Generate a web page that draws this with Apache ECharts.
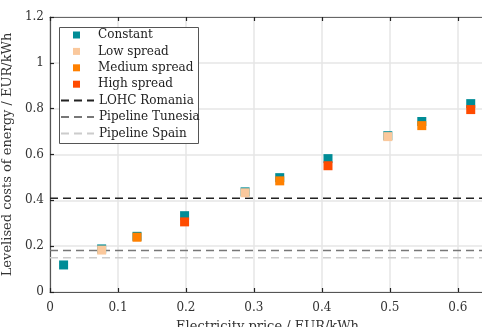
<!DOCTYPE html>
<html><head><meta charset="utf-8">
<script src="https://cdn.jsdelivr.net/npm/echarts@6/dist/echarts.min.js"></script>
<style>html,body{margin:0;padding:0;background:#fff}#c{width:482px;height:327px}</style>
</head><body><div id="c"></div>
<script>
const prices   = [0.020, 0.076, 0.128, 0.198, 0.287, 0.338, 0.409, 0.497, 0.547, 0.619];
const constant = [0.118, 0.188, 0.243, 0.333, 0.437, 0.499, 0.582, 0.682, 0.744, 0.822];
const lowSpread    = [null, 0.183, null, null, 0.433, null, null, 0.678, null, null];
const mediumSpread = [null, null, 0.239, null, null, 0.485, null, null, 0.726, null];
const highSpread   = [null, null, null, 0.306, null, null, 0.551, null, null, 0.796];
const refNames  = ['LOHC Romania', 'Pipeline Tunesia', 'Pipeline Spain'];
const refValues = [0.409, 0.181, 0.150];
const xMin = 0, xMax = 0.64;

const font = 'DejaVu Serif';
const pairs = ys => prices.map((x, i) => ys[i] == null ? null : [x, ys[i]]).filter(p => p);

const scat = (name, ys, color) => ({
  name, type: 'scatter', symbol: 'rect', symbolSize: 9,
  itemStyle: { color, opacity: 1 }, data: pairs(ys), z: 5
});
const refColors = ['#222222', '#777777', '#cccccc'];
const lines = refNames.map((n, i) => ({
  name: n, type: 'line', symbol: 'none', showSymbol: false, z: 3,
  lineStyle: { color: refColors[i], width: 1.5, type: [8, 5] },
  itemStyle: { color: refColors[i] },
  data: [[xMin, refValues[i]], [xMax, refValues[i]]]
}));

const chart = echarts.init(document.getElementById('c'), null, { renderer: 'canvas' });
chart.setOption({
  animation: false,
  textStyle: { fontFamily: font },
  grid: { left: 50, right: -3, top: 17, bottom: 35, outerBoundsMode: 'none', containLabel: false },
  xAxis: [{
    type: 'value', min: xMin, max: xMax, interval: 0.1,
    name: 'Electricity price / EUR/kWh', nameLocation: 'middle', nameGap: 28,
    nameTextStyle: { fontFamily: font, fontSize: 13, color: '#333' },
    axisLine: { lineStyle: { color: '#555', width: 1.2 } },
    axisTick: { inside: true, length: 4, lineStyle: { color: '#222', width: 1.2 } },
    axisLabel: { fontFamily: font, fontSize: 12, color: '#333', margin: 10,
      formatter: v => v === 0 ? '0' : (Math.round(v*10)/10).toString(),
      showMaxLabel: false },
    splitLine: { show: true, lineStyle: { color: '#e6e6e6', width: 1.5 } }
  }, {
    type: 'value', min: xMin, max: xMax, interval: 0.1, position: 'top',
    axisLine: { show: true, lineStyle: { color: '#666', width: 1.2 } },
    axisTick: { inside: true, length: 4, lineStyle: { color: '#222', width: 1.2 } },
    axisLabel: { show: false }, splitLine: { show: false }
  }],
  yAxis: [{
    type: 'value', min: 0, max: 1.2, interval: 0.2,
    name: 'Levelised costs of energy / EUR/kWh', nameLocation: 'middle', nameGap: 31,
    nameTextStyle: { fontFamily: font, fontSize: 13, color: '#333' },
    axisLine: { show: true, lineStyle: { color: '#555', width: 1.2 } },
    axisTick: { show: true, inside: true, length: 4, lineStyle: { color: '#222', width: 1.2 } },
    axisLabel: { fontFamily: font, fontSize: 12, color: '#333', margin: 6,
      formatter: v => v === 0 ? '0' : (v === 1 ? '1' : (Math.round(v*10)/10).toString()) },
    splitLine: { show: true, lineStyle: { color: '#e6e6e6', width: 1.5 } }
  }],
  graphic: [{
    type: 'rect', left: 59, top: 27, z: 10,
    shape: { width: 139, height: 116 },
    style: { fill: '#fff', stroke: '#555', lineWidth: 1 }
  }],
  legend: [{
    orient: 'vertical', left: 73, top: 28, z: 20,
    itemWidth: 7, itemHeight: 7, itemGap: 2.4, padding: 0,
    data: ['Constant', 'Low spread', 'Medium spread', 'High spread'],
    textStyle: { fontFamily: font, fontSize: 12, color: '#222', padding: [0, 0, 0, 13], lineHeight: 14 }
  }, {
    orient: 'vertical', left: 60, top: 93.6, z: 20,
    itemWidth: 33, itemHeight: 7, itemGap: 2.4, padding: 0,
    itemStyle: { opacity: 0 },
    data: refNames,
    textStyle: { fontFamily: font, fontSize: 12, color: '#222', lineHeight: 14 }
  }],
  series: [
    ...lines,
    scat('Constant', constant, '#008c96'),
    scat('Low spread', lowSpread, '#fac89c'),
    scat('Medium spread', mediumSpread, '#ff8000'),
    scat('High spread', highSpread, '#ff4b00')
  ]
});
</script></body></html>
